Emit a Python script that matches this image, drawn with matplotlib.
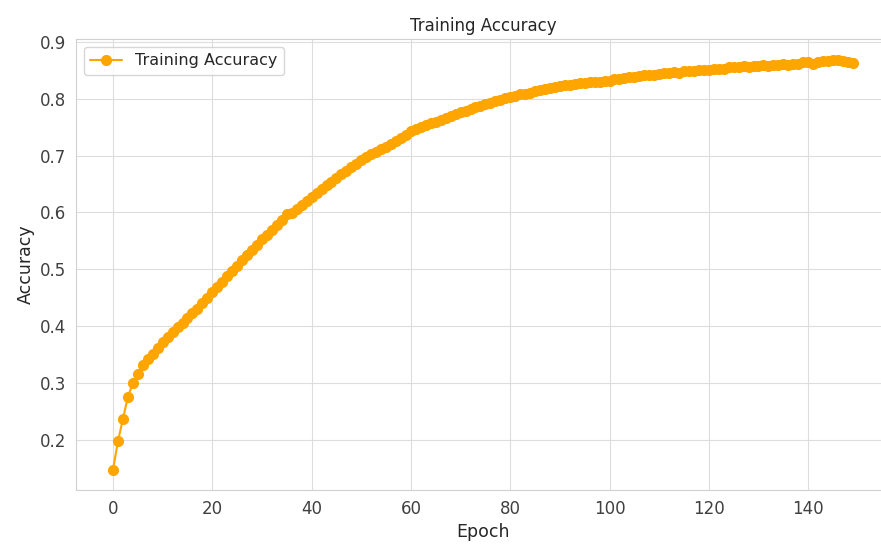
import numpy as np
import matplotlib
matplotlib.use("Agg")
import matplotlib.pyplot as plt
import seaborn as sns

# precisao de treino por epoca
acc_0_9 = [0.148, 0.198, 0.237, 0.276, 0.300, 0.316, 0.331, 0.342, 0.352, 0.362]
acc_10_19 = [0.372, 0.381, 0.389, 0.398, 0.406, 0.414, 0.424, 0.431, 0.440, 0.449]
acc_20_29 = [0.460, 0.469, 0.478, 0.488, 0.497, 0.506, 0.516, 0.525, 0.534, 0.543]
acc_30_39 = [0.553, 0.561, 0.569, 0.578, 0.587, 0.597, 0.599, 0.606, 0.613, 0.621]
acc_40_49 = [0.628, 0.635, 0.641, 0.648, 0.654, 0.660, 0.667, 0.673, 0.680, 0.686]
acc_50_59 = [0.692, 0.697, 0.702, 0.707, 0.712, 0.716, 0.721, 0.726, 0.731, 0.736]
acc_60_69 = [0.743, 0.746, 0.750, 0.753, 0.757, 0.759, 0.762, 0.766, 0.769, 0.773]
acc_70_79 = [0.777, 0.779, 0.782, 0.786, 0.788, 0.791, 0.793, 0.796, 0.798, 0.801]
acc_80_89 = [0.803, 0.805, 0.808, 0.809, 0.811, 0.813, 0.815, 0.817, 0.819, 0.820]
acc_90_99 = [0.823, 0.824, 0.825, 0.826, 0.827, 0.828, 0.829, 0.830, 0.830, 0.831]
acc_100_109 = [0.832, 0.834, 0.835, 0.836, 0.839, 0.838, 0.840, 0.841, 0.842, 0.842]
acc_110_119 = [0.844, 0.845, 0.845, 0.847, 0.846, 0.848, 0.849, 0.848, 0.850, 0.850]
acc_120_129 = [0.851, 0.852, 0.852, 0.853, 0.855, 0.856, 0.855, 0.857, 0.856, 0.858]
acc_130_139 = [0.858, 0.859, 0.858, 0.860, 0.860, 0.861, 0.860, 0.862, 0.862, 0.865]
acc_140_149 = [0.864, 0.862, 0.864, 0.866, 0.866, 0.869, 0.868, 0.866, 0.865, 0.863]

accuracy = (acc_0_9 + acc_10_19 + acc_20_29 + acc_30_39 + acc_40_49 + acc_50_59
            + acc_60_69 + acc_70_79 + acc_80_89 + acc_90_99 + acc_100_109
            + acc_110_119 + acc_120_129 + acc_130_139 + acc_140_149)
epochs = np.arange(len(accuracy))

sns.set_style("whitegrid")
plt.rcParams['font.family'] = ['DejaVu Sans']

fig = plt.figure(figsize=(8.81, 5.52), dpi=100)
ax = fig.add_axes([0.0863, 0.1123, 0.9237, 0.817])

ax.plot(epochs, accuracy, color='#FFA500', marker='o', markersize=7,
        linewidth=1.5, label='Training Accuracy')

ax.set_title('Training Accuracy', fontsize=12, color='#262626')
ax.set_xlabel('Epoch', fontsize=12.5, color='#262626')
ax.set_ylabel('Accuracy', fontsize=12.5, color='#262626')
ax.tick_params(labelsize=12, colors='#404040')
ax.set_yticks([0.2, 0.3, 0.4, 0.5, 0.6, 0.7, 0.8, 0.9])
ax.set_yticklabels(['0.2', '0.3', '0.4', '0.5', '0.6', '0.7', '0.8', '0.9'])
ax.grid(color='#dddddd')
for s in ax.spines.values():
    s.set_color('#d0d0d0')
ax.legend(loc='upper left', fontsize=11.5)

fig.savefig('out.png', dpi=100)
